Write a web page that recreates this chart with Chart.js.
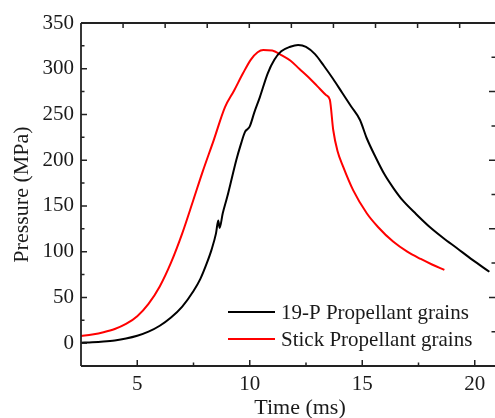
<!DOCTYPE html>
<html><head><meta charset="utf-8">
<script src="https://cdn.jsdelivr.net/npm/chart.js@4.4.0/dist/chart.umd.min.js"></script>
<style>html,body{margin:0;padding:0;background:#fff}#wrap{width:495px;height:418px;position:relative}</style>
</head><body><div id="wrap"><canvas id="c" width="495" height="418"></canvas></div>
<script>
// ---- data ----
const timeP19 = [2.5, 3.0, 3.5, 4.0, 4.5, 5.0, 5.5, 6.0, 6.5, 7.0, 7.5, 7.8, 8.1, 8.3, 8.5, 8.6, 8.66, 8.8, 9.0, 9.2, 9.4, 9.6, 9.79, 9.9, 10.0, 10.2, 10.45, 10.8, 11.1, 11.4, 11.8, 12.15, 12.5, 12.9, 13.3, 13.7, 14.1, 14.5, 14.9, 15.2, 15.6, 16.0, 16.4, 16.8, 17.4, 18.0, 18.6, 19.2, 19.9, 20.65];
const pressureP19 = [0.5, 1.0, 1.8, 3.0, 5.0, 8.0, 12.5, 19, 28, 40, 57, 70, 88, 102, 120, 134, 126, 142, 160, 180, 200, 217, 231, 234, 237, 252, 269, 295, 310, 319, 324, 326, 324, 316, 303, 289, 274, 259, 244, 224, 203, 184, 169, 156, 141, 127, 115, 104, 91, 78];
const timeStick = [2.5, 3.0, 3.5, 4.0, 4.5, 5.0, 5.5, 6.0, 6.5, 7.0, 7.5, 7.9, 8.4, 8.9, 9.3, 9.7, 10.05, 10.35, 10.6, 11.0, 11.4, 11.8, 12.2, 12.6, 13.0, 13.4, 13.56, 13.71, 13.9, 14.15, 14.6, 15.2, 15.7, 16.37, 17.0, 17.6, 18.1, 18.65];
const pressureStick = [7.7, 9.5, 12, 15.5, 21, 29.5, 43, 62, 88, 120, 157, 187, 222, 258, 276, 295, 310, 318, 320.5, 320, 315, 309, 300, 291, 281, 271, 266, 233, 210, 193, 167, 142, 127, 111, 100, 92, 86, 80];
const seriesNames = ['19-P Propellant grains', 'Stick Propellant grains'];
const seriesColors = ['#000000', '#ff0000'];
const xTickValues = [5, 10, 15, 20];
const xMinorTicks = [7.5, 12.5, 17.5];
const yTickValues = [0, 50, 100, 150, 200, 250, 300, 350];
const yMinorTicks = [25, 75, 125, 175, 225, 275, 325];
const topTickValues = [1, 2, 3, 4, 5, 6, 7, 8, 9];
const rightTickValues = [1, 2, 3, 4, 5, 6, 7, 8, 9];
const xTitle = 'Time (ms)';
const yTitle = 'Pressure (MPa)';

const FONT = '"Liberation Serif", "Times New Roman", serif';
const FS = 21;
const FT = 22;

function pts(t, p) { return t.map((v, i) => ({ x: v, y: p[i] })); }

const decor = {
  id: 'decor',
  afterDatasetsDraw(chart) {
    const ctx = chart.ctx, a = chart.chartArea, s = chart.scales;
    ctx.save();
    ctx.strokeStyle = '#222';
    ctx.lineWidth = 1.8;
    ctx.beginPath();
    ctx.moveTo(a.left, a.top); ctx.lineTo(a.right + 1, a.top);
    ctx.moveTo(a.left, a.top); ctx.lineTo(a.left, a.bottom);
    ctx.moveTo(a.left, a.bottom); ctx.lineTo(a.right + 1, a.bottom);
    ctx.stroke();
    ctx.lineWidth = 1.5;
    ctx.beginPath();
    xTickValues.forEach(v => { const p = s.x.getPixelForValue(v); ctx.moveTo(p, a.bottom); ctx.lineTo(p, a.bottom - 6); });
    xMinorTicks.forEach(v => { const p = s.x.getPixelForValue(v); ctx.moveTo(p, a.bottom); ctx.lineTo(p, a.bottom - 3.5); });
    yTickValues.forEach(v => { const p = s.y.getPixelForValue(v); ctx.moveTo(a.left, p); ctx.lineTo(a.left + 6, p); });
    yMinorTicks.forEach(v => { const p = s.y.getPixelForValue(v); ctx.moveTo(a.left, p); ctx.lineTo(a.left + 3.5, p); });
    topTickValues.forEach(v => { const p = s.xTop.getPixelForValue(v); ctx.moveTo(p, a.top); ctx.lineTo(p, a.top + 5); });
    rightTickValues.forEach(v => { const p = s.yRight.getPixelForValue(v); ctx.moveTo(a.right, p); ctx.lineTo(a.right - (v % 2 === 0 ? 6 : 3.5), p); });
    ctx.stroke();

    // legend (inside, lower right)
    ctx.font = FS + 'px ' + FONT;
    ctx.textAlign = 'left';
    ctx.textBaseline = 'middle';
    chart.data.datasets.forEach((ds, i) => {
      const y = 312 + i * 27;
      ctx.strokeStyle = ds.borderColor;
      ctx.lineWidth = 2;
      ctx.beginPath(); ctx.moveTo(228, y); ctx.lineTo(275, y); ctx.stroke();
      ctx.fillStyle = '#1a1a1a';
      ctx.fillText(ds.label, 281, y + 1);
    });

    // axis titles
    ctx.font = FT + 'px ' + FONT;
    ctx.fillStyle = '#1a1a1a';
    ctx.textAlign = 'center';
    ctx.textBaseline = 'alphabetic';
    ctx.fillText(xTitle, 300, 414);
    ctx.translate(28, (a.top + a.bottom) / 2);
    ctx.rotate(-Math.PI / 2);
    ctx.fillText(yTitle, 0, 0);
    ctx.restore();
  }
};

new Chart(document.getElementById('c'), {
  type: 'scatter',
  data: {
    datasets: [
      { label: seriesNames[0], data: pts(timeP19, pressureP19), showLine: true, borderColor: seriesColors[0], backgroundColor: seriesColors[0], borderWidth: 2, pointRadius: 0, cubicInterpolationMode: 'monotone' },
      { label: seriesNames[1], data: pts(timeStick, pressureStick), showLine: true, borderColor: seriesColors[1], backgroundColor: seriesColors[1], borderWidth: 2, pointRadius: 0, cubicInterpolationMode: 'monotone' }
    ]
  },
  options: {
    responsive: false,
    animation: false,
    devicePixelRatio: 1,
    layout: { padding: { top: 23, right: 0, bottom: 0, left: 0 } },
    plugins: { legend: { display: false }, tooltip: { enabled: false } },
    scales: {
      x: {
        type: 'linear', position: 'bottom', min: 2.5, max: 20.9,
        grid: { display: false, drawTicks: false }, border: { display: false },
        ticks: { font: { family: FONT, size: FS }, color: '#1a1a1a', padding: 6 },
        afterBuildTicks: sc => { sc.ticks = xTickValues.map(v => ({ value: v })); },
        afterFit: sc => { sc.height = 52; }
      },
      y: {
        type: 'linear', position: 'left', min: -25, max: 350,
        grid: { display: false, drawTicks: false }, border: { display: false },
        ticks: { font: { family: FONT, size: FS }, color: '#1a1a1a', padding: 7 },
        afterBuildTicks: sc => { sc.ticks = yTickValues.map(v => ({ value: v })); },
        afterFit: sc => { sc.width = 81; }
      },
      xTop: {
        type: 'linear', position: 'top', min: 0, max: 9.84,
        grid: { display: false, drawTicks: false }, border: { display: false },
        ticks: { display: false },
        afterFit: sc => { sc.height = 0; }
      },
      yRight: {
        type: 'linear', position: 'right', min: 0, max: 10,
        grid: { display: false, drawTicks: false }, border: { display: false },
        ticks: { display: false },
        afterFit: sc => { sc.width = 0; }
      }
    }
  },
  plugins: [decor]
});
</script></body></html>
